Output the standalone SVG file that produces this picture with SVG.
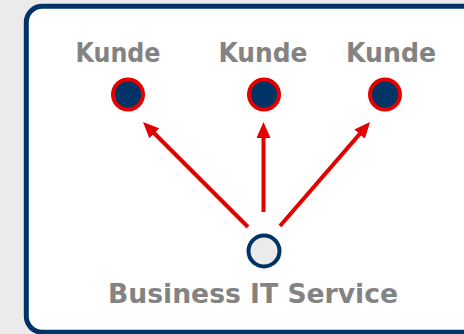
<svg xmlns="http://www.w3.org/2000/svg" width="464" height="334" viewBox="0 0 464 334">
<style>
.lbl{font-family:"DejaVu Sans Condensed","DejaVu Sans",Verdana,sans-serif;font-weight:bold;font-size:27px;fill:#838383;text-anchor:middle}
.cust{fill:#003366;stroke:#e30000;stroke-width:4}
.svc{fill:#ebebeb;stroke:#003366;stroke-width:4}
.arr{stroke:#e30000;stroke-width:4;fill:none;marker-end:url(#ah)}
</style>
<defs>
<marker id="ah" markerUnits="userSpaceOnUse" viewBox="0 0 16 14" refX="4" refY="7" markerWidth="16" markerHeight="14" orient="auto">
<path d="M0,0 L16,7 L0,14 z" fill="#e30000"/>
</marker>
</defs>
<rect x="0" y="0" width="464" height="334" fill="#ebebeb"/>
<rect x="26.3" y="6.3" width="460" height="326" rx="16" fill="#ffffff" stroke="#003366" stroke-width="5"/>
<g id="connectors">
<line class="arr" x1="248" y1="227" x2="151.5" y2="130.5"/>
<line class="arr" x1="263.5" y1="212" x2="263.5" y2="134"/>
<line class="arr" x1="280" y1="226" x2="362.2" y2="131.1"/>
</g>
<g id="kunde1">
<text class="lbl" x="118" y="62" textLength="85" lengthAdjust="spacingAndGlyphs">Kunde</text>
<circle class="cust" cx="128" cy="94.5" r="15"/>
</g>
<g id="kunde2">
<text class="lbl" x="263" y="62" textLength="89" lengthAdjust="spacingAndGlyphs">Kunde</text>
<circle class="cust" cx="264" cy="94.5" r="15"/>
</g>
<g id="kunde3">
<text class="lbl" x="391" y="62" textLength="90" lengthAdjust="spacingAndGlyphs">Kunde</text>
<circle class="cust" cx="385" cy="94.5" r="15"/>
</g>
<g id="service">
<circle class="svc" cx="264" cy="251" r="15.5"/>
<text class="lbl" x="253" y="303" textLength="290" lengthAdjust="spacingAndGlyphs">Business IT Service</text>
</g>
</svg>
